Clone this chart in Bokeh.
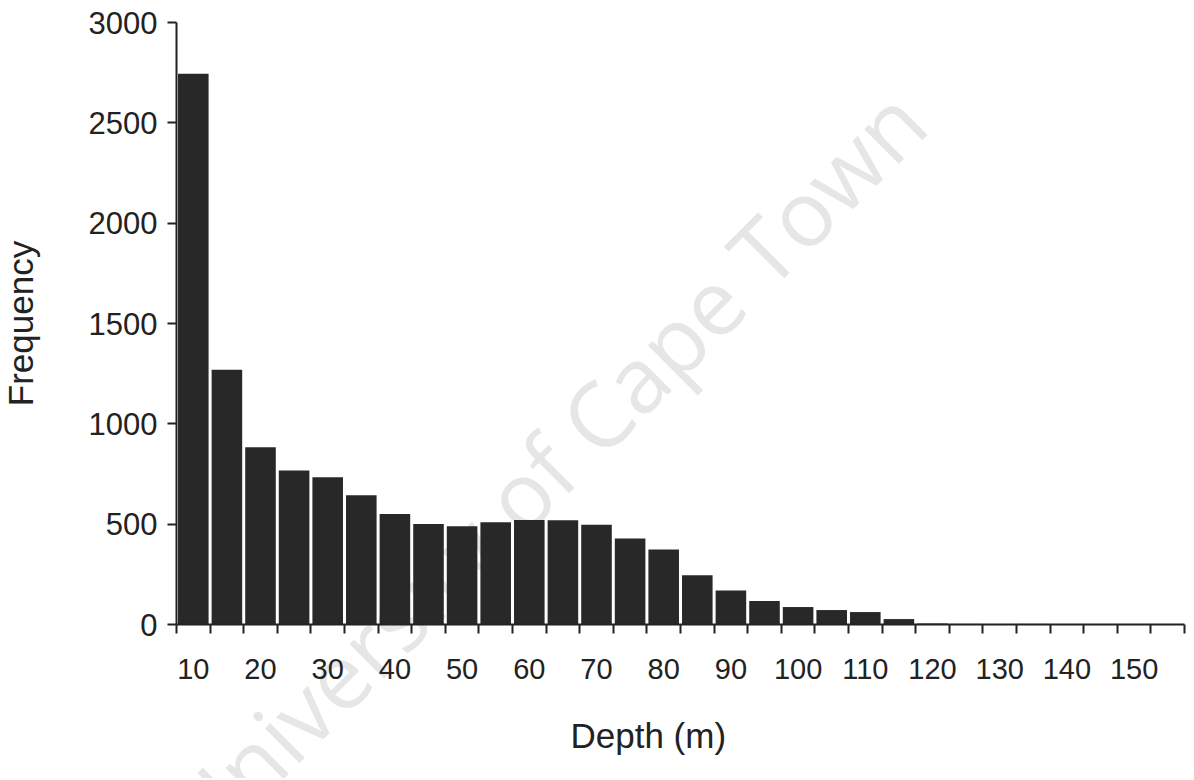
from bokeh.plotting import figure
from bokeh.models import FixedTicker, Range1d, Label, ColumnDataSource, LinearAxis
from bokeh.embed import file_html
from bokeh.resources import INLINE

# Data
depth_bins = [10, 15, 20, 25, 30, 35, 40, 45, 50, 55, 60, 65, 70, 75, 80,
              85, 90, 95, 100, 105, 110, 115, 120, 125, 130, 135, 140, 145, 150, 155]
frequency = [2745, 1270, 883, 767, 734, 644, 551, 501, 490, 510, 521, 520, 497, 429, 374,
             246, 169, 117, 87, 72, 62, 27, 5, 3, 2, 3, 2, 1, 2, 1]
x_tick_labels = [10, 20, 30, 40, 50, 60, 70, 80, 90, 100, 110, 120, 130, 140, 150]
y_ticks = [0, 500, 1000, 1500, 2000, 2500, 3000]
bin_width = 5

FONT = "Liberation Sans"
INK = "#222222"

W, H = 1190, 778
x_lo = depth_bins[0] - bin_width / 2
x_hi = depth_bins[-1] + bin_width / 2
y_top = y_ticks[-1]
# pixel geometry of the plotting area (axis start/end)
px_left, px_right, px_top, px_base = 176, 1184, 22, 624
sx = (px_right - px_left) / (x_hi - x_lo)
sy = (px_base - px_top) / y_top

src = ColumnDataSource(dict(x=depth_bins, top=frequency))

p = figure(width=W, height=H, output_backend="svg", toolbar_location=None,
           x_axis_location=None, y_axis_location=None,
           x_range=Range1d(x_lo - px_left / sx, x_hi + (W - px_right) / sx),
           y_range=Range1d(-(H - px_base) / sy, y_top + px_top / sy),
           min_border_left=0, min_border_right=0, min_border_top=0, min_border_bottom=0)
p.outline_line_color = None
p.grid.visible = False
p.background_fill_color = "white"
p.border_fill_color = "white"

# watermark of the scanned source
wm = Label(x=62.4, y=782, text="University of Cape Town", angle=45, angle_units="deg",
           text_align="center", text_baseline="alphabetic", text_font="Open Sans",
           text_font_size="91px", text_color="#e6e6e6", level="underlay")
p.add_layout(wm)

p.vbar(x="x", top="top", width=bin_width * 0.91, bottom=0, source=src,
       fill_color="#282828", line_color=None)

edges = [d - bin_width / 2 for d in depth_bins] + [x_hi]

xa = LinearAxis(fixed_location=0, bounds=(x_lo, x_hi))
xa.ticker = FixedTicker(ticks=x_tick_labels, minor_ticks=edges)
xa.major_tick_out = 0
xa.major_tick_in = 0
xa.minor_tick_out = 9
xa.minor_tick_in = 0
xa.minor_tick_line_color = INK
xa.minor_tick_line_width = 2
xa.axis_line_color = INK
xa.axis_line_width = 2
xa.major_label_text_font = FONT
xa.major_label_text_font_size = "29px"
xa.major_label_text_color = INK
xa.major_label_standoff = 25
p.add_layout(xa, "below")

ya = LinearAxis(fixed_location=x_lo, bounds=(0, y_top))
ya.ticker = FixedTicker(ticks=y_ticks, minor_ticks=[])
ya.major_tick_out = 9
ya.major_tick_in = 0
ya.major_tick_line_color = INK
ya.major_tick_line_width = 2
ya.axis_line_color = INK
ya.axis_line_width = 2
ya.major_label_text_font = FONT
ya.major_label_text_font_size = "31px"
ya.major_label_text_color = INK
ya.major_label_standoff = 10
ya.axis_label = "Frequency"
ya.axis_label_text_font = FONT
ya.axis_label_text_font_size = "35px"
ya.axis_label_text_font_style = "normal"
ya.axis_label_text_color = INK
ya.axis_label_standoff = 46
p.add_layout(ya, "left")

xt = Label(x=77.7, y=-553, text="Depth (m)", text_align="center",
           text_baseline="middle", text_font=FONT, text_font_size="35px",
           text_color=INK)
p.add_layout(xt)

open("out.html", "w").write(file_html(p, INLINE))
